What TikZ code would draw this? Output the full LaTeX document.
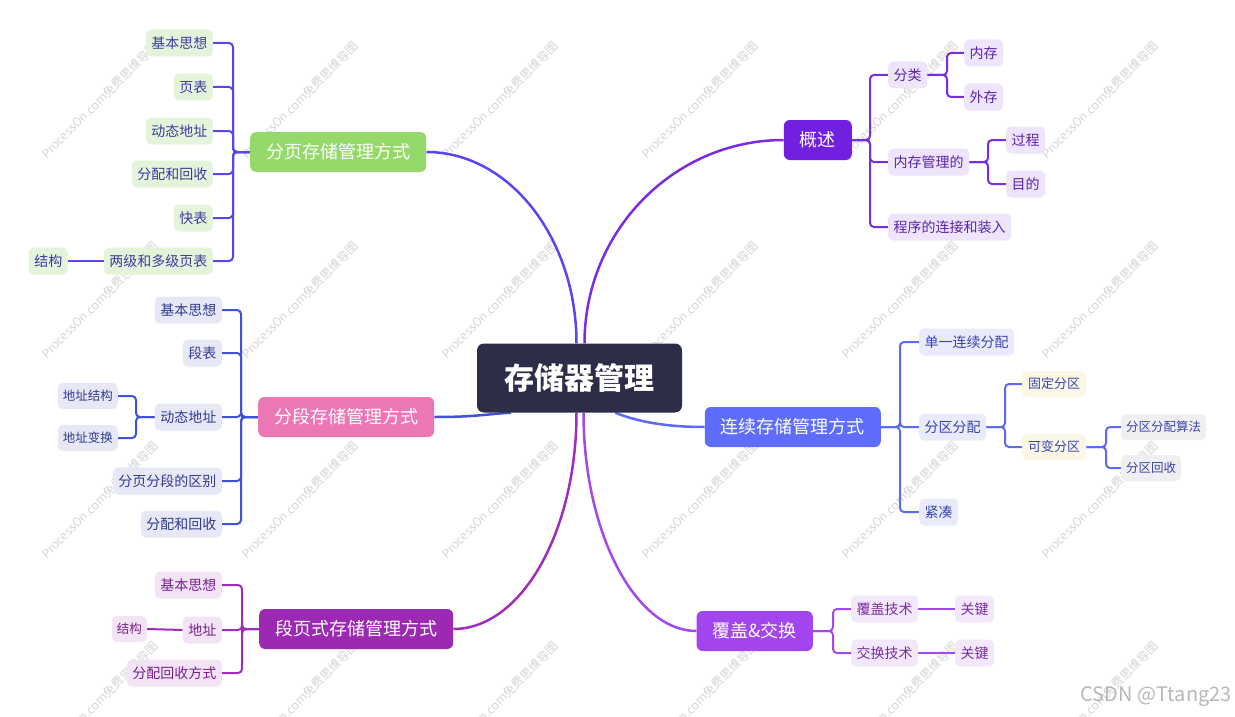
\documentclass[tikz,border=0pt]{standalone}
\usepackage{fontspec}
\setmainfont{Noto Sans CJK SC}
\usetikzlibrary{calc,backgrounds}

\definecolor{rootfill}{HTML}{2E2D48}
\definecolor{aFill}{HTML}{96D96B}
\definecolor{aLine}{HTML}{5846F2}
\definecolor{aLeaf}{HTML}{E4F4DA}
\definecolor{aText}{HTML}{3D3AA0}
\definecolor{bFill}{HTML}{EC77B5}
\definecolor{bLine}{HTML}{4052D6}
\definecolor{bLeaf}{HTML}{E6E8F6}
\definecolor{bText}{HTML}{313C8E}
\definecolor{cFill}{HTML}{9C29B2}
\definecolor{cLine}{HTML}{A02DBA}
\definecolor{cLeaf}{HTML}{F3E4F5}
\definecolor{cText}{HTML}{7A1F8C}
\definecolor{dFill}{HTML}{7120DF}
\definecolor{dLine}{HTML}{7A2CE0}
\definecolor{dLeaf}{HTML}{EEE4FB}
\definecolor{dText}{HTML}{5A24AA}
\definecolor{eFill}{HTML}{5F6DFE}
\definecolor{eLine}{HTML}{5B6BF8}
\definecolor{eLeaf}{HTML}{E9EBFD}
\definecolor{eText}{HTML}{3A46AE}
\definecolor{eCream}{HTML}{FBF7E7}
\definecolor{eGray}{HTML}{EFEFF1}
\definecolor{fFill}{HTML}{A245EF}
\definecolor{fLine}{HTML}{A348EC}
\definecolor{fLeaf}{HTML}{F3E7FC}
\definecolor{fText}{HTML}{7B2EA0}
\definecolor{wmark}{HTML}{D4D4D4}
\definecolor{csdn}{HTML}{B8B8B8}

\tikzset{
  rootbox/.style={fill=rootfill, text=white, rounded corners=7pt, minimum width=205pt,
    minimum height=69pt, inner sep=0pt, font=\fontsize{30}{30}\selectfont\bfseries,
    text height=26.4pt, text depth=3.6pt},
  branchbox/.style={rounded corners=6pt, text=white, minimum height=40pt, inner xsep=16pt,
    inner ysep=0pt, font=\fontsize{18}{18}\selectfont, text height=15.8pt, text depth=2.2pt},
  leafbox/.style={rounded corners=5pt, minimum height=27pt, inner xsep=5.5pt, inner ysep=0pt,
    font=\fontsize{14}{14}\selectfont, text height=12.3pt, text depth=1.7pt},
  smallbox/.style={leafbox, inner xsep=5pt, minimum height=26pt, font=\fontsize{12.5}{12.5}\selectfont,
    text height=11pt, text depth=1.5pt},
  midbox/.style={smallbox, inner xsep=6pt, font=\fontsize{13}{13}\selectfont,
    text height=11.4pt, text depth=1.6pt},
  link/.style={line width=2pt, rounded corners=4pt},
  trunk/.style={line width=2.5pt},
  wm/.style={text=wmark, font=\fontsize{12}{12}\selectfont, rotate=45, inner sep=0pt},
  ga/.style={fill=aLeaf, text=aText},
  gb/.style={fill=bLeaf, text=bText},
  gc/.style={fill=cLeaf, text=cText},
  gd/.style={fill=dLeaf, text=dText},
  ge/.style={fill=eLeaf, text=eText},
  gf/.style={fill=fLeaf, text=fText},
}

\begin{document}
\begin{tikzpicture}[x=1pt,y=-1pt]
\useasboundingbox (0,0) rectangle (1235,717);

% root
\node[rootbox] (root) at (579.5,378) {存储器管理};

% branches
\node[branchbox, fill=aFill, anchor=west] (b1) at (250,152) {分页存储管理方式};
\node[branchbox, fill=bFill, anchor=west] (b2) at (258,417) {分段存储管理方式};
\node[branchbox, fill=cFill, anchor=west] (b3) at (259,629) {段页式存储管理方式};
\node[branchbox, fill=dFill, anchor=east] (b4) at (852,140) {概述};
\node[branchbox, fill=eFill, anchor=east] (b5) at (881,427) {连续存储管理方式};
\node[branchbox, fill=fFill, anchor=east] (b6) at (813,631) {覆盖\&交换};

% group a
\node[leafbox, ga, anchor=east] (a1) at (213,43) {基本思想};
\node[leafbox, ga, anchor=east] (a2) at (213,87) {页表};
\node[leafbox, ga, anchor=east] (a3) at (213,131) {动态地址};
\node[leafbox, ga, anchor=east] (a4) at (213,174) {分配和回收};
\node[leafbox, ga, anchor=east] (a5) at (213,218) {快表};
\node[leafbox, ga, anchor=east] (a6) at (213,261) {两级和多级页表};
\node[leafbox, ga, anchor=east] (a61) at (68,261) {结构};

% group b
\node[leafbox, gb, anchor=east] (bb1) at (222,310) {基本思想};
\node[leafbox, gb, anchor=east] (bb2) at (222,353) {段表};
\node[leafbox, gb, anchor=east] (bb3) at (222,417) {动态地址};
\node[leafbox, gb, anchor=east] (bb4) at (222,481) {分页分段的区别};
\node[leafbox, gb, anchor=east] (bb5) at (222,524) {分配和回收};
\node[smallbox, gb, anchor=east] (bb31) at (118,396) {地址结构};
\node[smallbox, gb, anchor=east] (bb32) at (118,438) {地址变换};

% group c
\node[leafbox, gc, anchor=east] (c1) at (222,585) {基本思想};
\node[leafbox, gc, anchor=east] (c2) at (222,630) {地址};
\node[leafbox, gc, anchor=east] (c3) at (222,673) {分配回收方式};
\node[smallbox, gc, anchor=east] (c21) at (147,629) {结构};

% group d
\node[leafbox, gd, anchor=west] (d1) at (888,75) {分类};
\node[leafbox, gd, anchor=west] (d2) at (888,162) {内存管理的};
\node[leafbox, gd, anchor=west] (d3) at (888,227) {程序的连接和装入};
\node[leafbox, gd, anchor=west] (d11) at (964,53) {内存};
\node[leafbox, gd, anchor=west] (d12) at (964,97) {外存};
\node[leafbox, gd, anchor=west] (d21) at (1006,140) {过程};
\node[leafbox, gd, anchor=west] (d22) at (1006,184) {目的};

% group e
\node[leafbox, ge, anchor=west] (e1) at (919,342) {单一连续分配};
\node[leafbox, ge, anchor=west] (e2) at (919,427) {分区分配};
\node[leafbox, ge, anchor=west] (e3) at (919,512) {紧凑};
\node[midbox, fill=eCream, text=eText, anchor=west] (e21) at (1022,384) {固定分区};
\node[midbox, fill=eCream, text=eText, anchor=west] (e22) at (1022,447) {可变分区};
\node[smallbox, fill=eGray, text=eText, anchor=west] (e221) at (1121,427) {分区分配算法};
\node[smallbox, fill=eGray, text=eText, anchor=west] (e222) at (1121,468) {分区回收};

% group f
\node[leafbox, gf, anchor=west] (f1) at (851,609) {覆盖技术};
\node[leafbox, gf, anchor=west] (f2) at (851,653) {交换技术};
\node[leafbox, gf, anchor=west] (f11) at (955,609) {关键};
\node[leafbox, gf, anchor=west] (f21) at (955,653) {关键};

% watermark text
\node[text=csdn, font=\fontsize{20}{20}\selectfont, anchor=east, inner sep=0pt] (csdnmark) at (1232,697) {CSDN @Ttang23};

% junction coordinates
\coordinate (ja) at (233,152);
\coordinate (jb) at (241,417);
\coordinate (jb3) at (136,417);
\coordinate (jc) at (242,629);
\coordinate (jd) at (870,140);
\coordinate (jd1) at (947,75);
\coordinate (jd2) at (988,162);
\coordinate (je) at (900,427);
\coordinate (je2) at (1005,427);
\coordinate (je22) at (1106,447);
\coordinate (jf) at (833,631);

\coordinate (r1) at ([xshift=-3pt]root.north);
\coordinate (r4) at ([xshift=5pt]root.north);
\coordinate (r3) at ([xshift=-3pt]root.south);
\coordinate (r6) at ([xshift=4pt]root.south);
\coordinate (r2) at ([xshift=34pt]root.south west);
\coordinate (r5) at ([xshift=-67pt]root.south east);

\begin{scope}[on background layer]
  \foreach \i in {0,...,5} {
    \foreach \j in {0,...,3} {
      \node[wm] at (100+200*\i, 100+200*\j) {ProcessOn.com免费思维导图};
    }
  }
  % trunks
  \draw[trunk, aLine] (b1.east) .. controls +(83,0) and +(0,-105) .. (r1);
  \draw[trunk, dLine] (b4.west) .. controls +(-110,0) and +(0,-112) .. (r4);
  \draw[trunk, bLine] (b2.east) .. controls +(40,0) and +(-30,2) .. (r2);
  \draw[trunk, eLine] (b5.west) .. controls +(-35,0) and +(25,10) .. (r5);
  \draw[trunk, cLine] (b3.east) .. controls +(68,0) and +(0,119) .. (r3);
  \draw[trunk, fLine] (b6.west) .. controls +(-61,0) and +(0,120) .. (r6);

  % group a links
  \foreach \n in {a1,a2,a3,a4,a5,a6} {
    \draw[link, aLine] (\n.east) -| (ja) -- (b1.west);
  }
  \draw[link, aLine] (a6.west) -- (a61.east);

  % group b links
  \foreach \n in {bb1,bb2,bb3,bb4,bb5} {
    \draw[link, bLine] (\n.east) -| (jb) -- (b2.west);
  }
  \foreach \n in {bb31,bb32} {
    \draw[link, bLine] (\n.east) -| (jb3) -- (bb3.west);
  }

  % group c links
  \foreach \n in {c1,c2,c3} {
    \draw[link, cLine] (\n.east) -| (jc) -- (b3.west);
  }
  \draw[link, cLine] (c2.west) -- (c21.east);

  % group d links
  \foreach \n in {d1,d2,d3} {
    \draw[link, dLine] (b4.east) -- (jd) |- (\n.west);
  }
  \foreach \n in {d11,d12} {
    \draw[link, dLine] (d1.east) -- (jd1) |- (\n.west);
  }
  \foreach \n in {d21,d22} {
    \draw[link, dLine] (d2.east) -- (jd2) |- (\n.west);
  }

  % group e links
  \foreach \n in {e1,e2,e3} {
    \draw[link, eLine] (b5.east) -- (je) |- (\n.west);
  }
  \foreach \n in {e21,e22} {
    \draw[link, eLine] (e2.east) -- (je2) |- (\n.west);
  }
  \foreach \n in {e221,e222} {
    \draw[link, eLine] (e22.east) -- (je22) |- (\n.west);
  }

  % group f links
  \foreach \n in {f1,f2} {
    \draw[link, fLine] (b6.east) -- (jf) |- (\n.west);
  }
  \draw[link, fLine] (f1.east) -- (f11.west);
  \draw[link, fLine] (f2.east) -- (f21.west);
\end{scope}
\end{tikzpicture}
\end{document}
